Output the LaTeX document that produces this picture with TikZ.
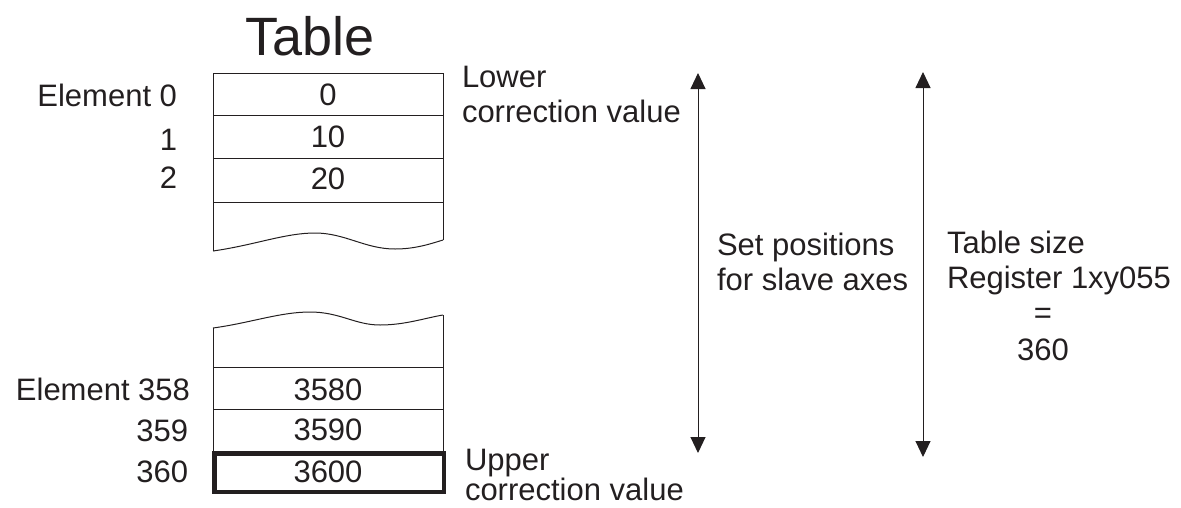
\documentclass[tikz,border=0pt]{standalone}
\usepackage{fontspec}
\setmainfont{Liberation Sans}
\usetikzlibrary{arrows.meta}
\definecolor{ink}{RGB}{35,31,32}
\begin{document}
\begin{tikzpicture}[x=1pt,y=-1pt,
  txt/.style={inner sep=0pt,outer sep=0pt,text=ink,font=\fontsize{31}{35}\selectfont},
  lbl/.style={txt,anchor=base east},
  cell/.style={txt,anchor=base},
  rtxt/.style={txt,anchor=base west},
  thin/.style={draw=ink,line width=1pt},
  dimarrow/.style={draw=ink,line width=1pt,{Triangle[length=16pt,width=15pt]}-{Triangle[length=16pt,width=15pt]}}]
\useasboundingbox (0,0) rectangle (1181,507);
% title
\node[txt,anchor=base,font=\fontsize{54}{60}\selectfont] (title) at (310,55) {Table};
% upper table part
\draw[thin] (213,251) -- (213,73) -- (443,73) -- (443,240);
\draw[thin] (213,115) -- (443,115);
\draw[thin] (213,158) -- (443,158);
\draw[thin] (213,202) -- (443,202);
\draw[thin] (213,251) .. controls (255,245) and (285,233) .. (315,233)
  .. controls (345,233) and (365,249) .. (395,249)
  .. controls (415,249) and (430,244) .. (443,240);
% lower table part
\draw[thin] (213,328) .. controls (250,323) and (280,312) .. (310,312)
  .. controls (340,312) and (355,325) .. (380,325)
  .. controls (405,325) and (425,318) .. (443,315);
\draw[thin] (213,328) -- (213,452);
\draw[thin] (443,315) -- (443,452);
\draw[thin] (213,367) -- (443,367);
\draw[thin] (213,409) -- (443,409);
\draw[draw=ink,line width=4.5pt] (214.25,453.25) rectangle (443.75,491.75);
% cell values
\node[cell] (c0) at (328,105) {0};
\node[cell] (c1) at (328,147) {10};
\node[cell] (c2) at (328,189) {20};
\node[cell] (c358) at (328,400) {3580};
\node[cell] (c359) at (328,440) {3590};
\node[cell] (c360) at (328,482) {3600};
% element labels
\node[lbl] (e0) at (177,106) {Element 0};
\node[lbl] (e1) at (177,150) {1};
\node[lbl] (e2) at (177,188) {2};
\node[lbl] (e358) at (190,400) {Element 358};
\node[lbl] (e359) at (188,441) {359};
\node[lbl] (e360) at (188,482) {360};
% correction values
\node[rtxt] (low1) at (462,87) {Lower};
\node[rtxt] (low2) at (462,122) {correction value};
\node[rtxt] (up1) at (465,470) {Upper};
\node[rtxt] (up2) at (465,500) {correction value};
% arrows
\coordinate (a1t) at (698,73);
\coordinate (a1b) at (698,453);
\coordinate (a2t) at (923,72);
\coordinate (a2b) at (923,457);
\draw[dimarrow] (a1t) -- (a1b);
\draw[dimarrow] (a2t) -- (a2b);
% arrow texts
\node[rtxt] (sp1) at (717,255) {Set positions};
\node[rtxt] (sp2) at (717,290) {for slave axes};
\node[rtxt] (ts1) at (947,253) {Table size};
\node[rtxt] (ts2) at (947,288) {Register 1xy055};
\node[cell] (ts3) at (1043,323) {=};
\node[cell] (ts4) at (1043,360) {360};
\end{tikzpicture}
\end{document}
